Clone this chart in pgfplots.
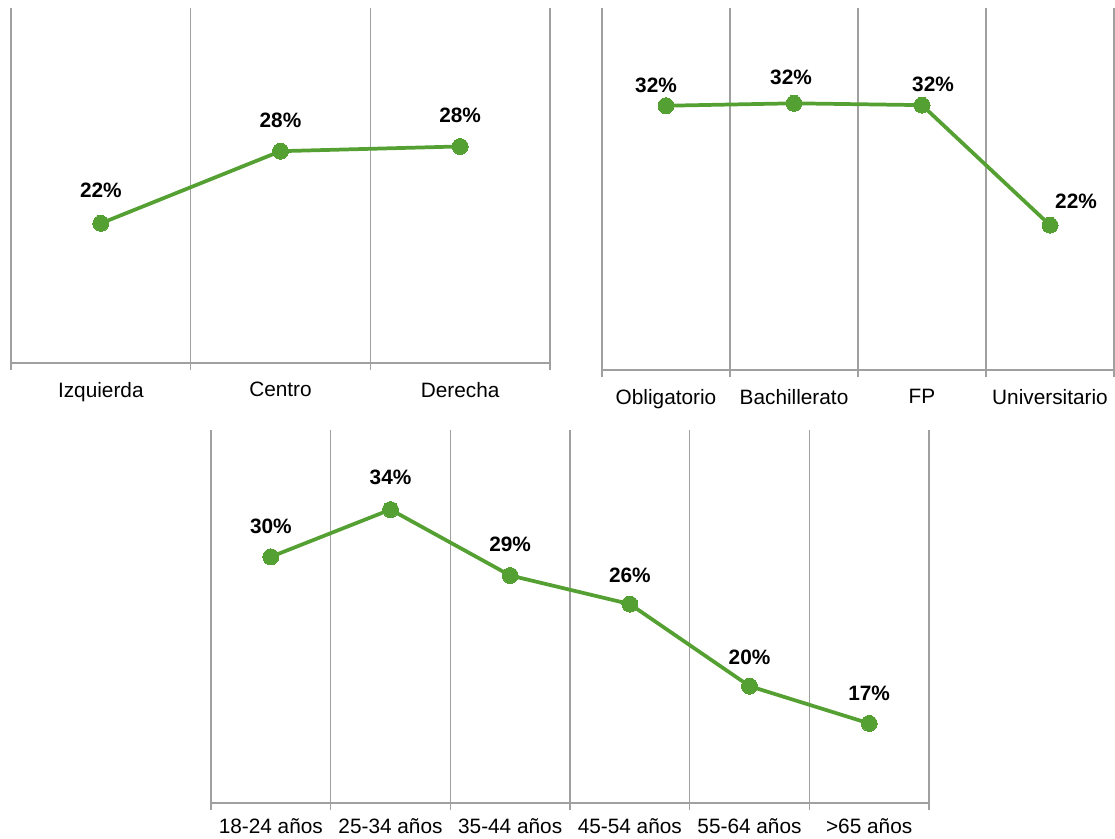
\documentclass[border=0pt]{standalone}
\usepackage{pgfplots}
\usepackage{pgfplotstable}
\pgfplotsset{compat=1.18}
\usepackage{fontspec}
\setmainfont{Liberation Sans}
\definecolor{lineg}{HTML}{55A032}
\definecolor{gridc}{HTML}{A0A0A0}

\pgfplotstableread{
x y lab dx dy
0 21.8 22 0 33
1 27.9 28 0 31
2 28.3 28 0 31
}\tPol
\pgfplotstableread{
x y lab dx dy
0 31.9 32 -10 20
1 32.1 32 -3 26
2 31.95 32 11 21
3 22.0 22 26 24
}\tEdu
\pgfplotstableread{
x y lab dx dy
0 29.8 30 0 30
1 33.6 34 0 32
2 28.3 29 0 31
3 26.0 26 0 29
4 19.4 20 0 29
5 16.4 17 0 30
}\tAge

\pgfplotsset{
  panel/.style={
    scale only axis,
    anchor=south west,
    axis y line=none,
    axis x line*=bottom,
    x axis line style={gridc, line width=1.1pt, -},
    ymin=10, ymax=40, ytick=\empty,
    xtick=data,
    major tick length=0pt,
    minor tick length=5.5pt,
    tick align=outside,
    tick style={gridc, line width=1.1pt},
    xminorgrids=true,
    minor grid style={gridc, line width=1.1pt},
    xticklabel style={font=\fontsize{15.6}{18}\selectfont, yshift=-11pt},
    clip=false,
    point meta=explicit symbolic,
    visualization depends on={\thisrow{dx} \as \dx},
    visualization depends on={\thisrow{dy} \as \dy},
    nodes near coords={\pgfplotspointmeta\%},
    every node near coord/.append style={anchor=center, inner sep=0pt,
      font=\fontsize{15.6}{18}\selectfont\bfseries, text=black,
      xshift=\dx*0.75pt, yshift=\dy*0.75pt},
  },
  gline/.style={color=lineg, line width=2.8pt, mark=*, mark size=6pt,
    mark options={fill=lineg, draw=lineg, line width=0pt}},
}

\begin{document}
\begin{tikzpicture}
\useasboundingbox (0,0) rectangle (836.25pt,629.25pt);

\begin{axis}[panel, at={(8.25pt,357pt)}, width=404.25pt, height=266.25pt,
  xmin=-0.5, xmax=2.5, minor xtick={-0.5,0.5,1.5,2.5},
  xticklabels={Izquierda,Centro,Derecha}]
\addplot[gline] table[x=x, y=y, meta=lab] {\tPol};
\end{axis}

\begin{axis}[panel, at={(451.5pt,351.75pt)}, width=384pt, height=271.5pt,
  xmin=-0.5, xmax=3.5, minor xtick={-0.5,0.5,1.5,2.5,3.5},
  xticklabels={Obligatorio,Bachillerato,FP,Universitario}]
\addplot[gline] table[x=x, y=y, meta=lab] {\tEdu};
\end{axis}

\begin{axis}[panel, at={(158.25pt,27pt)}, width=538.5pt, height=279.75pt,
  xmin=-0.5, xmax=5.5, minor xtick={-0.5,0.5,1.5,2.5,3.5,4.5,5.5},
  xticklabel style={yshift=2.5pt},
  xticklabels={18-24 años,25-34 años,35-44 años,45-54 años,55-64 años,>65 años}]
\addplot[gline] table[x=x, y=y, meta=lab] {\tAge};
\end{axis}
\end{tikzpicture}
\end{document}
